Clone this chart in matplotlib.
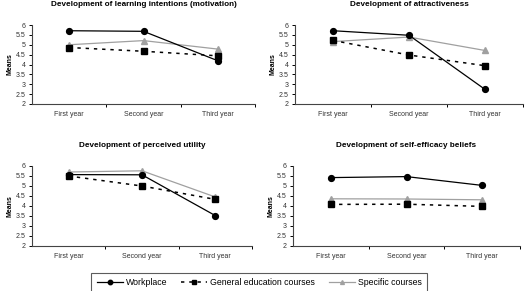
import matplotlib
matplotlib.use("Agg")
import matplotlib.pyplot as plt
from matplotlib.lines import Line2D

plt.rcParams['font.family'] = ['Liberation Sans', 'DejaVu Sans']

years = ['First year', 'Second year', 'Third year']

titles = ['Development of learning intentions (motivation)',
          'Development of attractiveness',
          'Development of perceived utility',
          'Development of self-efficacy beliefs']

# Workplace / General education courses / Specific courses, one list per panel
workplace = [[5.71, 5.68, 4.19],
             [5.71, 5.48, 2.74],
             [5.57, 5.56, 3.52],
             [5.42, 5.47, 5.03]]
general = [[4.86, 4.67, 4.44],
           [5.22, 4.48, 3.94],
           [5.50, 5.00, 4.33],
           [4.08, 4.09, 3.98]]
specific = [[5.00, 5.21, 4.78],
            [5.16, 5.39, 4.71],
            [5.70, 5.76, 4.45],
            [4.36, 4.35, 4.31]]

series_names = ['Workplace', 'General education courses', 'Specific courses']

W, H = 530, 291
fig = plt.figure(figsize=(W / 100, H / 100), dpi=100)

# axes rectangles in pixels: left, top, right, bottom
boxes = [(32, 25, 255, 104), (295, 25, 523, 104),
         (32, 166, 252, 246), (293, 166, 520, 246)]

x = list(range(len(years)))
for i, (l, t, r, b) in enumerate(boxes):
    ax = fig.add_axes([l / W, 1 - b / H, (r - l) / W, (b - t) / H])
    ax.plot(x, specific[i], color='#a0a0a0', lw=0.9, marker='^', ms=4.2,
            mfc='#a0a0a0', mec='#a0a0a0', zorder=2)
    ax.plot(x, general[i], color='black', lw=1.1, ls=(0, (2.2, 3.2)),
            marker='s', ms=3.8, zorder=3)
    ax.plot(x, workplace[i], color='black', lw=0.9, marker='o', ms=4.2,
            zorder=4)
    ax.set_xlim(-0.5, 2.5)
    ax.set_ylim(2, 6)
    ax.set_yticks([2, 2.5, 3, 3.5, 4, 4.5, 5, 5.5, 6])
    ax.set_yticklabels(['2', '2.5', '3', '3.5', '4', '4.5', '5', '5.5', '6'])
    ax.set_xticks(x)
    ax.set_xticklabels(years)
    ax.set_xticks([0.5, 1.5, 2.5], minor=True)
    ax.tick_params(axis='x', which='major', length=0, labelsize=5, pad=5,
                   colors='#333333')
    ax.tick_params(axis='x', which='minor', length=2.5, width=0.7)
    ax.tick_params(axis='y', length=2.5, width=0.7, labelsize=5, pad=2,
                   colors='#333333')
    ax.tick_params(axis='both', color='black')
    for side in ['top', 'right']:
        ax.spines[side].set_visible(False)
    for side in ['left', 'bottom']:
        ax.spines[side].set_linewidth(0.8)
        ax.spines[side].set_color('#444444')
    ax.set_ylabel('Means', fontsize=5, fontweight='bold', labelpad=1.5)
    ax.set_title(titles[i], fontsize=5.9, fontweight='bold', pad=14)

handles = [
    Line2D([], [], color='black', lw=0.9, marker='o', ms=3.2),
    Line2D([], [], color='black', lw=1.1, ls=(0, (2.2, 3.2)), marker='s', ms=3.2),
    Line2D([], [], color='#a0a0a0', lw=0.9, marker='^', ms=2.8,
           mfc='#a0a0a0', mec='#a0a0a0'),
]
leg = fig.legend(handles, series_names, loc='upper center',
                 bbox_to_anchor=(0.489, 0.078), ncol=3, fontsize=6.3,
                 frameon=True, fancybox=False, edgecolor='#333333',
                 handlelength=3.0, columnspacing=1.6, borderpad=0.6,
                 handletextpad=0.3)
leg.get_frame().set_linewidth(0.8)

fig.savefig('out.png', dpi=100)
